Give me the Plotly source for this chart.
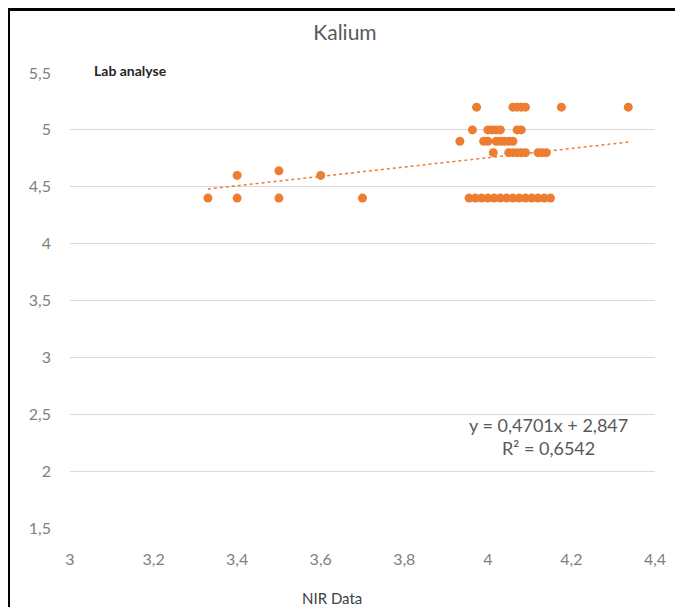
import plotly.graph_objects as go

# ---- data ----
nir_x = [3.33, 3.40, 3.40, 3.50, 3.50, 3.60, 3.70,
         3.973, 4.06, 4.07, 4.08, 4.09, 4.176, 4.336,
         3.963, 4.00, 4.01, 4.02, 4.03, 4.07, 4.08,
         3.933, 3.99, 4.00, 4.02, 4.03, 4.04, 4.05, 4.06,
         4.013, 4.05, 4.06, 4.07, 4.08, 4.09, 4.12, 4.13, 4.14,
         3.955, 3.97, 3.985, 4.00, 4.015, 4.03, 4.045, 4.06, 4.075, 4.09, 4.105, 4.12, 4.135, 4.15]
lab_y = [4.40, 4.60, 4.40, 4.64, 4.40, 4.60, 4.40,
         5.20, 5.20, 5.20, 5.20, 5.20, 5.20, 5.20,
         5.00, 5.00, 5.00, 5.00, 5.00, 5.00, 5.00,
         4.90, 4.90, 4.90, 4.90, 4.90, 4.90, 4.90, 4.90,
         4.80, 4.80, 4.80, 4.80, 4.80, 4.80, 4.80, 4.80, 4.80,
         4.40, 4.40, 4.40, 4.40, 4.40, 4.40, 4.40, 4.40, 4.40, 4.40, 4.40, 4.40, 4.40, 4.40]

trend_slope = 0.41
trend_intercept = 3.115
equation_text = ["y = 0,4701x + 2,847", "R² = 0,6542"]

x_tickvals = [3, 3.2, 3.4, 3.6, 3.8, 4, 4.2, 4.4]
x_ticktext = ["3", "3,2", "3,4", "3,6", "3,8", "4", "4,2", "4,4"]
y_tickvals = [1.5, 2, 2.5, 3, 3.5, 4, 4.5, 5, 5.5]
y_ticktext = ["1,5", "2", "2,5", "3", "3,5", "4", "4,5", "5", "5,5"]

ORANGE = "#ED7D31"
FONT = "Lato, 'Open Sans', sans-serif"

x_min, x_max = min(nir_x), max(nir_x)
trend_x = [x_min, x_max]
trend_y = [trend_slope * v + trend_intercept for v in trend_x]

fig = go.Figure()
fig.add_trace(go.Scatter(
    x=trend_x, y=trend_y, mode="lines",
    line=dict(color=ORANGE, width=1.5, dash="dot"),
    hoverinfo="skip", showlegend=False))
fig.add_trace(go.Scatter(
    x=nir_x, y=lab_y, mode="markers",
    marker=dict(color=ORANGE, size=9, line=dict(width=0)),
    showlegend=False))

# The page body has an 8px margin, so figure px = page px - 8.
OFF = 8
W, H = 683, 607
pw, ph = 585, 455
L, T = 70 - OFF, 73 - OFF
R = W - L - pw
B = H - T - ph

def px_x(p):
    return (p - OFF - L) / pw

def px_y(p):
    return (T + ph - (p - OFF)) / ph

fig.update_layout(
    width=W, height=H,
    margin=dict(l=L, r=R, t=T, b=B),
    paper_bgcolor="white", plot_bgcolor="white",
    font=dict(family=FONT, color="#7f7f7f", size=16),
    title=dict(text="Kalium", x=px_x(345), xref="paper", xanchor="center",
               y=1 - (33 - OFF) / H, yanchor="middle",
               font=dict(size=21, color="#595959", family=FONT)),
    xaxis=dict(range=[3, 4.4], tickvals=x_tickvals, ticktext=x_ticktext,
               showgrid=False, zeroline=False, showline=False,
               ticks="", ticklabelstandoff=20,
               tickfont=dict(size=16, color="#808080")),
    yaxis=dict(range=[1.5, 5.5], tickvals=y_tickvals, ticktext=y_ticktext,
               showgrid=True, gridcolor="#d9d9d9", gridwidth=1,
               zeroline=False, showline=False, ticks="",
               ticklabelstandoff=18,
               tickfont=dict(size=16, color="#808080")),
    annotations=[
        dict(text="<b>Lab analyse</b>", xref="paper", yref="paper",
             x=px_x(92), y=px_y(70), xanchor="left", yanchor="middle",
             showarrow=False, font=dict(size=14, color="#262626", family=FONT)),
        dict(text="NIR Data", xref="paper", yref="paper",
             x=px_x(332), y=px_y(598), xanchor="center", yanchor="middle",
             showarrow=False, font=dict(size=15, color="#404040", family=FONT)),
        dict(text=equation_text[0], xref="paper", yref="paper",
             x=px_x(548), y=px_y(425), xanchor="center", yanchor="middle",
             showarrow=False, font=dict(size=18, color="#595959", family=FONT)),
        dict(text=equation_text[1], xref="paper", yref="paper",
             x=px_x(548), y=px_y(448), xanchor="center", yanchor="middle",
             showarrow=False, font=dict(size=18, color="#595959", family=FONT)),
    ],
    shapes=[dict(type="rect", xref="paper", yref="paper",
                 x0=px_x(8.5), x1=px_x(684), y0=px_y(640), y1=px_y(9.5),
                 line=dict(color="black", width=3), fillcolor="rgba(0,0,0,0)",
                 layer="above")],
)

fig.write_html("out.html")
